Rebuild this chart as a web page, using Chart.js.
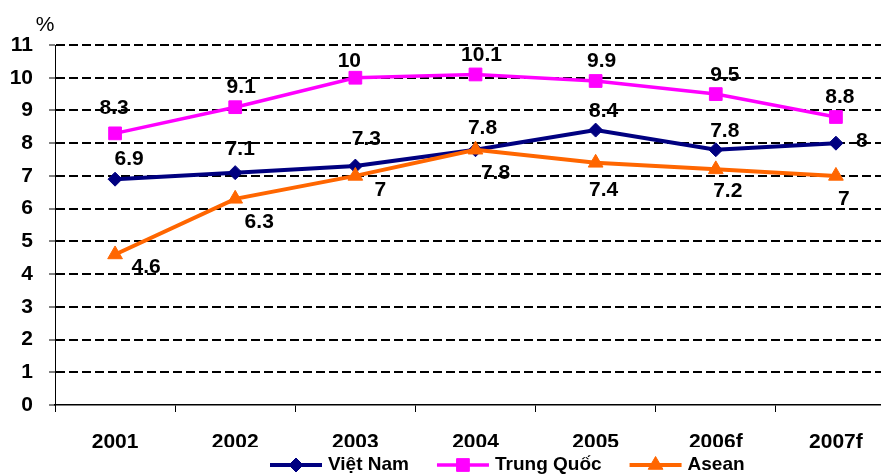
<!DOCTYPE html>
<html>
<head>
<meta charset="utf-8">
<script src="https://cdn.jsdelivr.net/npm/chart.js@4.4.1/dist/chart.umd.min.js"></script>
<style>
  html, body { margin: 0; padding: 0; background: #fff; overflow: hidden; }
  #wrap { width: 881px; height: 475px; overflow: hidden; }
  canvas { display: block; }
</style>
</head>
<body>
<div id="wrap"><canvas id="growth" width="906" height="475"></canvas></div>
<script>
// Categories and series (GDP growth, %)
const years = ['2001', '2002', '2003', '2004', '2005', '2006f', '2007f'];
const vietNam = [6.9, 7.1, 7.3, 7.8, 8.4, 7.8, 8];
const trungQuoc = [8.3, 9.1, 10, 10.1, 9.9, 9.5, 8.8];
const asean = [4.6, 6.3, 7, 7.8, 7.4, 7.2, 7];
const yTicks = [0, 1, 2, 3, 4, 5, 6, 7, 8, 9, 10, 11];
const unitLabel = '%';

// Value-label nudges (dx, dy in px) relative to each point
const vnLabelShift = [[14, -20], [5, -23], [11, -27], [7, -22], [8, -19], [9, -19], [26, -2]];
const tqLabelShift = [[-1, -25], [6, -20], [-6, -17], [6, -19], [6, -20], [9, -19], [4, -20]];
const aseanLabelShift = [[31, 13], [24, 23], [25, 14], [20, 23], [8, 27], [12, 22], [8, 23]];

const FONT = '"Liberation Sans", Arial, Helvetica, sans-serif';

const valueLabels = {
  id: 'valueLabels',
  afterDatasetsDraw(chart) {
    const ctx = chart.ctx;
    ctx.save();
    ctx.font = 'bold 21px ' + FONT;
    ctx.fillStyle = '#000';
    ctx.textAlign = 'center';
    ctx.textBaseline = 'middle';
    chart.data.datasets.forEach((ds, di) => {
      const meta = chart.getDatasetMeta(di);
      meta.data.forEach((pt, i) => {
        const s = ds.labelShift[i];
        ctx.fillText(String(ds.data[i]), pt.x + s[0], pt.y + s[1]);
      });
    });
    ctx.restore();
  }
};

const unitAndLegend = {
  id: 'unitAndLegend',
  afterDraw(chart) {
    const ctx = chart.ctx;
    ctx.save();
    // unit above the value axis
    ctx.font = '21px ' + FONT;
    ctx.fillStyle = '#000';
    ctx.textAlign = 'center';
    ctx.textBaseline = 'middle';
    ctx.fillText(unitLabel, 45, 25);

    // legend panel (white background sits over the category labels)
    ctx.fillStyle = '#fff';
    ctx.fillRect(205, 447, 560, 28);
    const y = 465;
    let x = 270;
    ctx.font = 'bold 19px ' + FONT;
    ctx.textAlign = 'left';
    chart.data.datasets.forEach(ds => {
      ctx.strokeStyle = ds.borderColor;
      ctx.lineWidth = ds.borderWidth;
      ctx.beginPath();
      ctx.moveTo(x, y);
      ctx.lineTo(x + 52, y);
      ctx.stroke();
      ctx.fillStyle = ds.pointBackgroundColor;
      ctx.strokeStyle = ds.pointBorderColor;
      ctx.lineWidth = 1;
      Chart.helpers.drawPoint(ctx, { pointStyle: ds.pointStyle, radius: ds.pointRadius, borderWidth: 1, rotation: 0 }, x + 26, y);
      ctx.fillStyle = '#000';
      ctx.fillText(ds.label, x + 58, y);
      x += 58 + ctx.measureText(ds.label).width + 28;
    });
    ctx.restore();
  }
};

const chart = new Chart(document.getElementById('growth'), {
  type: 'line',
  data: {
    labels: years,
    datasets: [
      {
        label: 'Việt Nam',
        data: vietNam,
        labelShift: vnLabelShift,
        borderColor: '#000080',
        backgroundColor: '#000080',
        pointBackgroundColor: '#000080',
        pointBorderColor: '#000080',
        borderWidth: 4,
        pointStyle: 'rectRot',
        pointRadius: 7,
        pointBorderWidth: 1,
        tension: 0,
        order: 3
      },
      {
        label: 'Trung Quốc',
        data: trungQuoc,
        labelShift: tqLabelShift,
        borderColor: '#FF00FF',
        backgroundColor: '#FF00FF',
        pointBackgroundColor: '#FF00FF',
        pointBorderColor: '#FF00FF',
        borderWidth: 3.5,
        pointStyle: 'rect',
        pointRadius: 9,
        pointBorderWidth: 1,
        tension: 0,
        order: 2
      },
      {
        label: 'Asean',
        data: asean,
        labelShift: aseanLabelShift,
        borderColor: '#FF6600',
        backgroundColor: '#FF6600',
        pointBackgroundColor: '#FF6600',
        pointBorderColor: '#FF6600',
        borderWidth: 4,
        pointStyle: 'triangle',
        pointRadius: 8.5,
        pointBorderWidth: 1,
        tension: 0,
        order: 1
      }
    ]
  },
  options: {
    responsive: false,
    animation: false,
    devicePixelRatio: 1,
    layout: { padding: { top: 45, right: 0, bottom: 0, left: 0 } },
    plugins: {
      legend: { display: false },
      tooltip: { enabled: false }
    },
    scales: {
      x: {
        type: 'category',
        offset: true,
        afterFit(scale) { scale.height = 70; scale.paddingLeft = 0; scale.paddingRight = 0; },
        grid: {
          offset: true,
          drawOnChartArea: false,
          drawTicks: true,
          tickLength: 7,
          color: '#000',
          tickColor: '#000',
          lineWidth: 1
        },
        border: { display: true, color: '#000', width: 1.5 },
        ticks: {
          color: '#000',
          font: { family: FONT, size: 21, weight: 'bold' },
          padding: 18,
          maxRotation: 0,
          autoSkip: false
        }
      },
      y: {
        min: 0,
        max: 11,
        afterFit(scale) { scale.width = 55; },
        afterBuildTicks(scale) { scale.ticks = yTicks.map(v => ({ value: v })); },
        grid: {
          color: ctx => (ctx.tick && ctx.tick.value === 0 ? 'rgba(0,0,0,0)' : '#000'),
          lineWidth: 2,
          drawTicks: true,
          tickLength: 6,
          tickColor: '#000',
          tickWidth: 1,
          tickBorderDash: []
        },
        border: { display: true, color: '#000', width: 1, dash: [9, 4] },
        ticks: {
          color: '#000',
          font: { family: FONT, size: 21, weight: 'bold' },
          padding: 16,
          stepSize: 1
        }
      }
    }
  },
  plugins: [valueLabels, unitAndLegend]
});
</script>
</body>
</html>
